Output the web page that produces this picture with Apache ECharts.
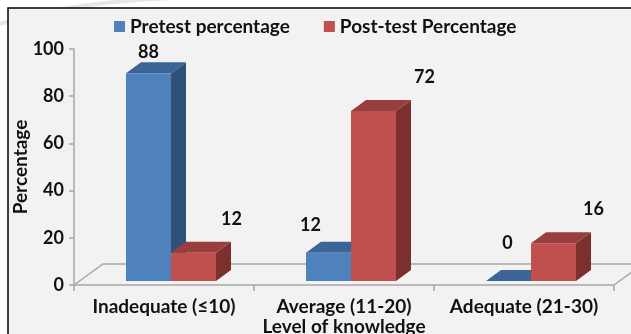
<!DOCTYPE html>
<html>
<head>
<meta charset="utf-8">
<script src="https://cdn.jsdelivr.net/npm/echarts@6/dist/echarts.min.js"></script>
<style>
  html, body { margin: 0; padding: 0; background: #ffffff; }
  #chart { width: 631px; height: 334px; }
</style>
</head>
<body>
<div id="chart"></div>
<script>
// Knowledge levels before and after the programme
const categories = ['Inadequate (\u226410)', 'Average (11-20)', 'Adequate (21-30)'];
const pretest = [88, 12, 0];
const posttest = [12, 72, 16];
const seriesNames = ['Pretest percentage', 'Post-test Percentage'];
const yTickMax = 100;
const yTickStep = 20;

// Styling for the pseudo-3D columns
const FONT = 'Lato, "Open Sans", sans-serif';
const TEXT_SIZE = 19;
const NUM_SIZE = 18;
const FRONT_SHIFT = [7, -4];    // front face sits a little behind the axis plane
const DEPTH = [15, -11];        // column depth vector
const FLOOR_DEPTH = [29, -21];  // floor depth vector
const palette = [
  { front: '#4f81bd', top: '#3b6597', side: '#2f5179' },
  { front: '#c0504d', top: '#983f3d', side: '#7b302e' }
];
// value label nudges, relative to the top centre of each column front
const labelNudge = [
  [[0, -21], [-18, -27], [-1, -38]],
  [[38, -33], [51, -34], [40, -34]]
];

function columnRenderer(seriesIdx) {
  const pal = palette[seriesIdx];
  return function (params, api) {
    const cat = api.value(0);
    const val = api.value(1);
    const base = api.coord([cat, 0]);
    const top = api.coord([cat, val]);
    const band = api.size([1, 0])[0];
    const w = band * 0.25;
    const x0 = base[0] + FRONT_SHIFT[0] + (seriesIdx === 0 ? -w : 0);
    const x1 = x0 + w;
    const yb = base[1] + FRONT_SHIFT[1];
    const yt = top[1] + FRONT_SHIFT[1];
    const dx = DEPTH[0], dy = DEPTH[1];
    const nudge = labelNudge[seriesIdx][params.dataIndex];
    return {
      type: 'group',
      children: [
        { type: 'polygon', shape: { points: [[x1, yt], [x1 + dx, yt + dy], [x1 + dx, yb + dy], [x1, yb]] },
          style: { fill: pal.side } },
        { type: 'polygon', shape: { points: [[x0, yt], [x1, yt], [x1 + dx, yt + dy], [x0 + dx, yt + dy]] },
          style: { fill: pal.top } },
        { type: 'rect', shape: { x: x0, y: yt, width: w, height: yb - yt },
          style: { fill: pal.front } },
        { type: 'text', x: (x0 + x1) / 2 + nudge[0], y: yt + nudge[1],
          style: { text: String(val), font: 'bold ' + NUM_SIZE + 'px ' + FONT, fill: '#111', align: 'center', verticalAlign: 'middle' } }
      ]
    };
  };
}

function floorRenderer(params, api) {
  const cs = params.coordSys;
  const xl = cs.x, xr = cs.x + cs.width, yf = cs.y + cs.height;
  const fx = FLOOR_DEPTH[0], fy = FLOOR_DEPTH[1];
  return {
    type: 'polyline',
    shape: { points: [[xl, yf], [xl + fx, yf + fy], [xr + fx, yf + fy], [xr, yf]] },
    style: { stroke: '#a6a6a6', lineWidth: 1.5, fill: null }
  };
}

const textStyleBase = { fontFamily: FONT, fontWeight: 'bold', fontSize: TEXT_SIZE, color: '#111' };

const chart = echarts.init(document.getElementById('chart'), null, { renderer: 'canvas' });
chart.setOption({
  backgroundColor: '#ffffff',
  animation: false,
  graphic: [
    { type: 'bezierCurve', z: -10, silent: true,
      shape: { x1: 0, y1: 24, x2: 260, y2: -2, cpx1: 60, cpy1: 4, cpx2: 160, cpy2: -6 },
      style: { stroke: '#e6e6e6', lineWidth: 4, fill: null } },
    { type: 'rect', z: -9, silent: true,
      shape: { x: 8, y: 8, width: 640, height: 340 },
      style: { fill: '#f2f2f2', stroke: '#000000', lineWidth: 1.5 } }
  ],
  legend: {
    top: 12,
    left: 109,
    itemWidth: 11,
    itemHeight: 11,
    itemGap: 34,
    icon: 'rect',
    textStyle: textStyleBase,
    data: [
      { name: seriesNames[0], itemStyle: { color: palette[0].front } },
      { name: seriesNames[1], itemStyle: { color: palette[1].front } }
    ]
  },
  grid: { left: 74, right: 17, top: 49, bottom: 49, containLabel: false, outerBoundsMode: 'none' },
  xAxis: {
    type: 'category',
    data: categories,
    name: 'Level of knowledge',
    nameLocation: 'middle',
    nameGap: 32,
    nameMoveOverlap: false,
    nameTextStyle: textStyleBase,
    axisLine: { lineStyle: { color: '#a6a6a6', width: 1.5 } },
    axisTick: { show: true, length: 6, lineStyle: { color: '#a6a6a6', width: 1.5 } },
    axisLabel: Object.assign({ margin: 12, interval: 0, hideOverlap: false }, textStyleBase)
  },
  yAxis: {
    type: 'value',
    min: 0,
    max: yTickMax,
    interval: yTickStep,
    name: 'Percentage',
    nameLocation: 'middle',
    nameGap: 44,
    nameMoveOverlap: false,
    nameTextStyle: textStyleBase,
    axisLine: { show: true, lineStyle: { color: '#a6a6a6', width: 1.5 } },
    axisTick: { show: true, length: 5, lineStyle: { color: '#a6a6a6', width: 1.5 } },
    axisLabel: { fontFamily: FONT, fontWeight: 'bold', fontSize: NUM_SIZE, color: '#111', margin: 10 },
    splitLine: { show: false }
  },
  series: [
    { type: 'custom', name: 'floor', silent: true, z: 1, renderItem: floorRenderer, data: [[0, 0]] },
    { type: 'custom', name: seriesNames[0], z: 2, renderItem: columnRenderer(0),
      itemStyle: { color: palette[0].front },
      data: pretest.map((v, i) => [i, v]) },
    { type: 'custom', name: seriesNames[1], z: 3, renderItem: columnRenderer(1),
      itemStyle: { color: palette[1].front },
      data: posttest.map((v, i) => [i, v]) }
  ]
});
</script>
</body>
</html>
